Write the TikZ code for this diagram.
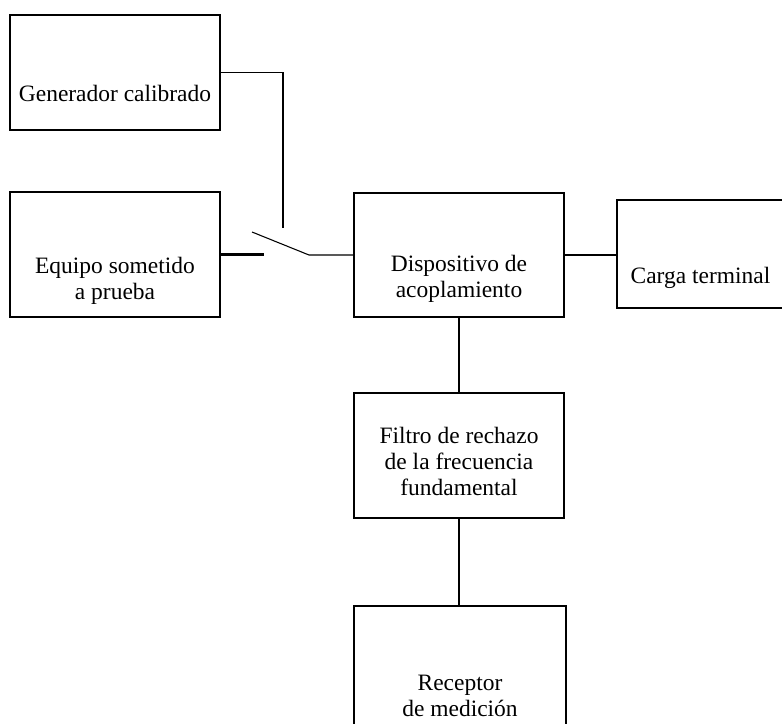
\documentclass[tikz,border=0pt]{standalone}
\usepackage{fontspec}
\setmainfont{Liberation Serif}
\usepackage{tikz}
\usetikzlibrary{positioning}
\newcommand{\boxfont}{\fontsize{17.6}{19.5}\selectfont}
\tikzset{
box/.style={draw=black, line width=1.2pt, inner sep=0pt, minimum width=157.5pt},
boxtext/.style={font=\boxfont, align=center, inner sep=0pt},
thinwire/.style={line width=0.8pt},
thickwire/.style={line width=1.6pt}
}

\begin{document}
\begin{tikzpicture}[x=0.75pt,y=-0.75pt]
\useasboundingbox (0,0) rectangle (782,724);

% Boxes
\node[box, minimum height=86.25pt, label={[boxtext,yshift=-16pt]center:Generador calibrado}] (gen) at (115,72.5) {};
\node[box, minimum height=93.75pt, label={[boxtext,yshift=-19.5pt]center:{Equipo sometido\\a prueba}}] (equipo) at (115,254.5) {};
\node[box, minimum height=93pt, label={[boxtext,yshift=-18pt]center:{Dispositivo de\\acoplamiento}}] (disp) at (459,255) {};
\node[box, minimum width=125.25pt, minimum height=81pt, label={[boxtext,yshift=-17.6pt]center:Carga terminal}] (carga) at (700.5,254) {};
\node[box, minimum height=93.75pt, label={[boxtext,yshift=-4.5pt]center:{Filtro de rechazo\\de la frecuencia\\fundamental}}] (filtro) at (459,455.5) {};
\node[box, minimum width=159pt, minimum height=126pt, label={[boxtext,yshift=-4.5pt]center:{Receptor\\de medición}}] (rec) at (460,690) {};

% Coordinates
\coordinate (sw_top) at (283,228);
\coordinate (sw_tip) at (252,232);
\coordinate (sw_pivot) at (309,255);
\coordinate (eq_end) at (264,255);

% Wires
\draw[thinwire] (gen.east) -| (sw_top);
\draw[thickwire] (equipo.east) -- (equipo.east -| eq_end);
\draw[thinwire] (sw_tip) -- (sw_pivot) -- (disp.west |- sw_pivot);
\draw[thickwire] (disp.east) -- (carga.west |- disp.east);
\draw[thickwire] (disp.south) -- (filtro.north);
\draw[thickwire] (filtro.south) -- (filtro.south |- rec.north);

\end{tikzpicture}
\end{document}
